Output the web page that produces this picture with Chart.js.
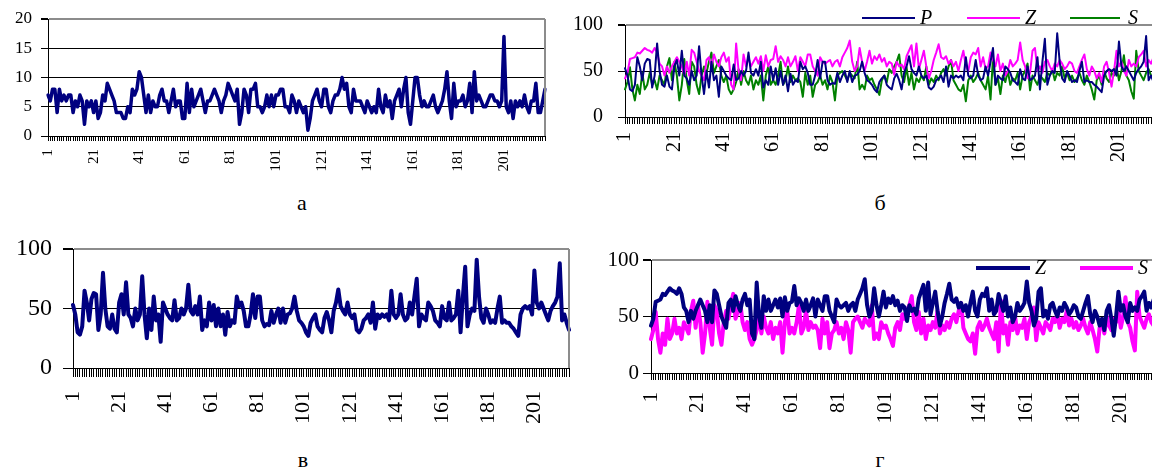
<!DOCTYPE html>
<html><head><meta charset="utf-8">
<script src="https://cdn.jsdelivr.net/npm/chart.js@4.4.1/dist/chart.umd.min.js"></script>
<style>
html,body{margin:0;padding:0;background:#fff;width:1152px;height:468px;overflow:hidden;position:relative;}
canvas{position:absolute;}
.cap{position:absolute;font-family:"Liberation Serif","Times New Roman",serif;font-size:22px;color:#000;transform:translate(-50%,-50%);line-height:1;}
</style></head><body>
<canvas id="ca"></canvas><canvas id="cb"></canvas><canvas id="cv"></canvas><canvas id="cg"></canvas>
<div class="cap" style="left:302px;top:203px">а</div>
<div class="cap" style="left:880px;top:203px">б</div>
<div class="cap" style="left:303px;top:460px">в</div>
<div class="cap" style="left:880px;top:460px">г</div>
<script>
// ---- data ----
const seriesA = [7,6,8,8,4,8,6,7,6,7, 7,4,6,5,7,6,2,6,5,6, 4,6,3,4,7,6,9,8,7,6, 4,4,4,3,3,5,4,8,7,8,
 11,10,7,4,7,4,6,5,5,7, 8,6,6,4,6,8,5,6,6,3, 3,9,4,8,5,6,7,8,6,4, 6,6,7,8,7,6,4,6,7,9,
 8,7,6,8,2,4,8,7,4,8, 8,9,5,5,4,5,7,5,7,5, 7,7,8,8,5,5,4,7,6,4, 6,5,4,5,1,3,6,7,8,6,
 5,8,8,5,4,6,7,7,8,10, 8,9,5,4,8,6,6,6,5,4, 6,5,4,5,4,8,5,4,7,5, 6,3,6,7,8,5,8,10,4,2,
 6,10,10,7,5,6,5,5,6,7, 5,4,5,6,8,11,6,3,9,5, 6,6,7,5,6,9,4,11,6,7, 6,5,5,6,7,7,6,6,5,6,
 17,5,4,6,3,6,5,6,5,7, 5,4,6,6,9,4,4,6,8];
const seriesP = [53,45,30,28,35,65,55,40,58,63, 62,32,45,80,50,35,33,45,33,30, 55,62,45,72,45,42,35,50,40,45,
 77,45,25,50,32,60,40,45,22,55, 50,45,42,40,57,40,42,50,45,50, 70,48,45,52,45,60,32,40,35,55,
 40,53,35,50,35,45,28,47,35,40, 38,60,52,55,48,35,35,45,62,42, 60,60,40,35,37,36,48,38,45,50,
 38,50,38,45,46,50,60,48,40,38, 35,30,27,38,42,45,35,32,30,42, 47,40,30,48,55,66,52,48,45,55,
 45,42,45,32,30,33,40,42,45,38, 55,33,45,42,45,43,45,40,65,45, 42,45,62,45,40,42,55,45,60,75,
 35,45,42,40,55,52,48,40,38,35, 52,42,40,55,40,42,45,65,30,60, 85,35,45,50,48,91,60,42,38,50,
 45,38,40,38,50,60,38,40,38,38, 35,33,30,27,45,50,52,50,52,45, 82,55,50,55,50,45,40,48,52,55,
 60,88,40,45,38,32];
const seriesZ = [42,48,63,64,65,70,69,72,75,73, 72,70,75,70,58,55,45,55,48,55, 60,65,60,55,45,60,45,73,70,60,
 50,45,40,62,65,55,68,60,55,65, 70,60,65,35,30,80,50,40,68,55, 65,55,60,65,58,66,50,67,55,62,
 63,77,60,66,62,55,65,55,60,66, 50,65,60,55,68,68,55,50,45,65, 60,58,60,62,55,60,62,55,65,70,
 75,83,60,50,55,75,60,50,60,72, 58,66,62,68,60,64,55,60,58,46, 60,55,57,52,66,72,78,55,80,52,
 62,72,55,42,50,62,70,79,65,63, 66,58,62,55,60,50,62,72,55,50, 65,70,68,75,55,65,52,55,70,62,
 55,68,50,58,45,50,62,55,58,62, 81,62,55,42,48,72,75,50,55,48, 60,62,55,50,58,55,62,58,52,55,
 60,58,50,48,55,62,68,52,45,55, 50,42,48,38,55,60,48,33,50,72, 55,60,50,45,62,55,58,55,65,68,
 72,55,62,58,65,60];
const seriesS = [30,38,54,30,18,35,25,48,30,35, 48,35,40,30,45,40,35,55,64,40, 60,45,18,35,63,40,25,60,55,35,
 25,45,55,48,60,70,48,55,62,45, 38,45,30,25,30,38,52,35,50,40, 35,45,30,40,35,45,18,45,55,35,
 40,35,45,60,35,40,55,38,45,40, 42,38,22,48,35,45,22,35,38,45, 35,40,30,45,38,18,45,48,50,45,
 40,48,45,42,60,30,35,30,45,40, 42,35,30,24,40,45,38,52,48,55, 60,68,45,38,54,35,48,30,42,38,
 45,40,55,35,42,38,45,40,48,52, 45,55,62,40,35,30,28,35,17,40, 45,38,42,48,40,35,30,45,19,64,
 35,42,25,45,38,50,35,42,40,48, 30,45,50,58,29,45,40,35,45,42, 38,48,45,52,40,48,45,55,42,48,
 40,45,38,42,48,40,35,45,38,30, 19,40,45,35,50,42,38,48,45,55, 40,50,67,45,40,28,20,72,50,45,
 40,48,52,45,42,48];
const categoriesA = seriesA.map((_, i) => String(i + 1));
const categoriesPZS = seriesP.map((_, i) => String(i + 1));
const yTicksA = [0, 5, 10, 15, 20];
const yTicksPct = [0, 50, 100];
const legendLabelsB = ['P', 'Z', 'S'];
const legendLabelsG = ['Z', 'S'];

// ---- drawing ----
const SERIF = '"Liberation Serif", "Times New Roman", serif';
const NAVY = '#000080', MAGENTA = '#FF00FF', GREEN = '#008000';

const framePlugin = {
  id: 'frameBorder',
  afterDraw(chart) {
    const a = chart.chartArea, ctx = chart.ctx;
    ctx.save();
    ctx.strokeStyle = '#8c8c8c'; ctx.lineWidth = 2;
    ctx.beginPath(); ctx.moveTo(a.right, a.top); ctx.lineTo(a.right, a.bottom); ctx.stroke();
    ctx.restore();
  }
};
const legendPlugin = {
  id: 'lineLegend',
  afterDraw(chart, args, o) {
    if (!o || !o.items) return;
    const ctx = chart.ctx;
    ctx.save();
    chart.data.datasets.forEach((ds, k) => {
      const it = o.items[k];
      if (!it) return;
      ctx.strokeStyle = ds.borderColor; ctx.lineWidth = o.lineWidth; ctx.lineCap = 'butt';
      ctx.beginPath(); ctx.moveTo(it.x1, o.y); ctx.lineTo(it.x2, o.y); ctx.stroke();
      ctx.fillStyle = '#000'; ctx.font = 'italic ' + o.size + 'px ' + SERIF;
      ctx.textBaseline = 'middle'; ctx.textAlign = 'left';
      ctx.fillText(ds.label, it.tx, o.y + 1);
    });
    ctx.restore();
  }
};

function panel(id, g, labels, datasets, yTicks, legend) {
  const cv = document.getElementById(id);
  cv.width = g.W; cv.height = g.H;
  cv.style.left = g.L + 'px'; cv.style.top = g.T + 'px';
  cv.style.width = g.W + 'px'; cv.style.height = g.H + 'px';
  const yMax = yTicks[yTicks.length - 1];
  return new Chart(cv, {
    type: 'line',
    data: { labels, datasets },
    options: {
      responsive: false, animation: false, devicePixelRatio: 1,
      layout: { padding: { left: 0, top: g.pt, right: g.pr, bottom: 0 } },
      plugins: { legend: { display: false }, tooltip: { enabled: false }, lineLegend: legend || {} },
      elements: { point: { radius: 0 }, line: { tension: 0, borderJoinStyle: 'round', borderCapStyle: 'round' } },
      scales: {
        x: {
          type: 'category', offset: false,
          grid: { drawOnChartArea: false, drawTicks: true, tickLength: g.xtl, color: '#000', lineWidth: 1 },
          border: { color: '#000', width: 1 },
          ticks: { autoSkip: false, minRotation: 90, maxRotation: 90, padding: g.xpad, labelOffset: g.xoff || 0,
            color: '#000', font: { family: SERIF, size: g.xfs },
            callback: (v, i) => (i % 20 === 0 ? labels[i] : '') },
          afterFit: (s) => { s.height = g.XH; s.paddingLeft = 0; s.paddingRight = 0; }
        },
        y: {
          min: yTicks[0], max: yMax,
          afterBuildTicks: (s) => { s.ticks = yTicks.map(v => ({ value: v })); },
          ticks: { padding: g.ypad, color: '#000', font: { family: SERIF, size: g.yfs } },
          grid: {
            color: (c) => (c.tick && c.tick.value === yMax ? '#8c8c8c' : '#000'),
            lineWidth: (c) => (c.tick && c.tick.value === yMax ? 2 : 1),
            tickColor: '#000', tickLength: g.ytl, drawTicks: true
          },
          border: { color: '#000', width: 1 },
          afterFit: (s) => { s.width = g.YW; s.paddingTop = 0; s.paddingBottom = 0; }
        }
      }
    },
    plugins: [framePlugin, legendPlugin]
  });
}

// а
panel('ca', { L: 0, T: 0, W: 560, H: 180, pt: 19, pr: 15, YW: 48, XH: 44,
  ytl: 7, ypad: 9, yfs: 17, xtl: 5, xpad: 8, xfs: 15 },
  categoriesA,
  [{ label: 'a', data: seriesA, borderColor: NAVY, borderWidth: 3.5 }], yTicksA);

// б
panel('cb', { L: 560, T: 0, W: 600, H: 170, pt: 25, pr: 4, YW: 65, XH: 53,
  ytl: 7, ypad: 15, yfs: 20, xtl: 7, xpad: 8, xfs: 20 },
  categoriesPZS,
  [{ label: legendLabelsB[0], data: seriesP, borderColor: NAVY, borderWidth: 2 },
   { label: legendLabelsB[1], data: seriesZ, borderColor: MAGENTA, borderWidth: 2 },
   { label: legendLabelsB[2], data: seriesS, borderColor: GREEN, borderWidth: 2 }],
  yTicksPct,
  { y: 18, lineWidth: 2, size: 20, items: [
    { x1: 302, x2: 355, tx: 360 }, { x1: 407, x2: 460, tx: 465 }, { x1: 510, x2: 560, tx: 568 }] });

// в
panel('cv', { L: 0, T: 229, W: 585, H: 200, pt: 20, pr: 16, YW: 73, XH: 61,
  ytl: 10, ypad: 11, yfs: 24, xtl: 9, xpad: 14, xfs: 22 },
  categoriesPZS,
  [{ label: 'P', data: seriesP, borderColor: NAVY, borderWidth: 4 }], yTicksPct);

// г
panel('cg', { L: 585, T: 240, W: 575, H: 190, pt: 20, pr: 4, YW: 66, XH: 57,
  ytl: 8, ypad: 4, yfs: 21, xtl: 7, xpad: 12, xfs: 21 },
  categoriesPZS,
  [{ label: legendLabelsG[0], data: seriesZ, borderColor: NAVY, borderWidth: 4 },
   { label: legendLabelsG[1], data: seriesS, borderColor: MAGENTA, borderWidth: 4 }],
  yTicksPct,
  { y: 28, lineWidth: 4, size: 20, items: [
    { x1: 391, x2: 445, tx: 450 }, { x1: 495, x2: 548, tx: 553 }] });
</script>
</body></html>
